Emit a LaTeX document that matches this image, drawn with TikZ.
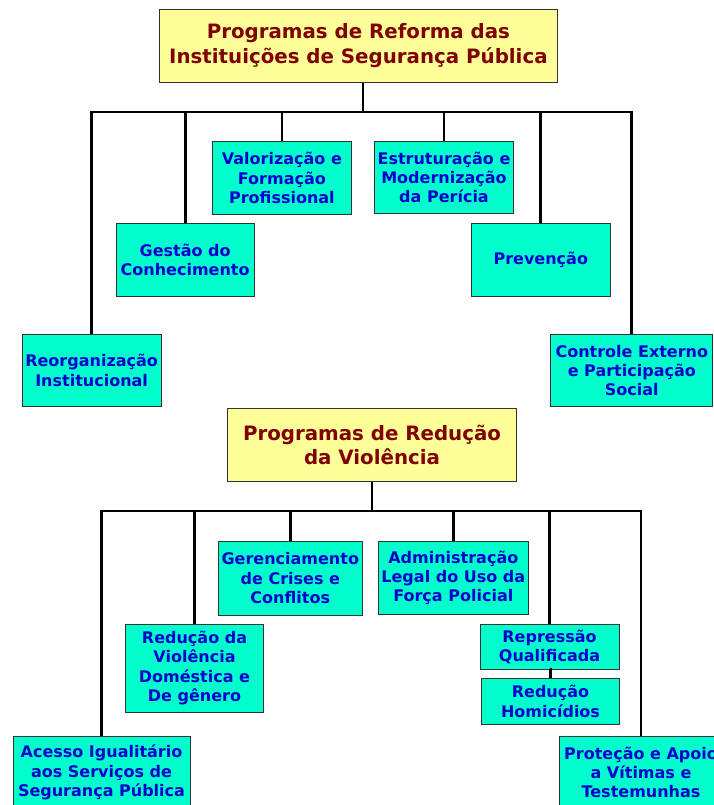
\documentclass[tikz,border=0pt]{standalone}
\usepackage{fontspec}
\setmainfont{DejaVu Sans}
\definecolor{tealfill}{RGB}{0,255,204}
\definecolor{titlefill}{RGB}{255,255,153}
\definecolor{boxtext}{RGB}{0,0,204}
\definecolor{titletext}{RGB}{128,0,0}
\definecolor{edge}{RGB}{50,50,50}
\begin{document}
\begin{tikzpicture}[x=1pt,y=-1pt,
  prog/.style={draw=edge, line width=0.9pt, fill=tealfill, text=boxtext,
    font=\bfseries\fontsize{16}{19.3}\selectfont, align=center, inner sep=0pt},
  titlebox/.style={draw=edge, line width=0.9pt, fill=titlefill, text=titletext,
    font=\bfseries\fontsize{19.8}{24.5}\selectfont, align=center, inner sep=0pt},
  conn/.style={line width=2.8pt, black, line join=miter}]
\useasboundingbox[fill=white] (0,0) rectangle (714,805);

% ---------- first tree ----------
\node[titlebox, minimum width=398pt, minimum height=73pt] (t1) at (358.4,45.8)
  {Programas de Reforma das\\Instituições de Segurança Pública};
\coordinate (b1) at (363,112);

\node[prog, minimum width=138.4pt, minimum height=72.6pt] (valor) at (281.9,178)
  {Valorização e\\Formação\\Profissional};
\node[prog, minimum width=139.4pt, minimum height=72.4pt] (estr) at (444,177.5)
  {Estruturação e\\Modernização\\da Perícia};
\node[prog, minimum width=138pt, minimum height=72.7pt] (gest) at (185.1,259.7)
  {Gestão do\\Conhecimento};
\node[prog, minimum width=139pt, minimum height=72.7pt] (prev) at (540.8,259.7)
  {Prevenção};
\node[prog, minimum width=138.8pt, minimum height=72.4pt] (reorg) at (91.6,370.5)
  {Reorganização\\Institucional};
\node[prog, minimum width=162.2pt, minimum height=72.4pt] (ctrl) at (631.8,370.5)
  {Controle Externo\\e Participação\\Social};

\draw[conn] (b1 |- t1.south) -- (b1);
\draw[conn] (reorg.north) -- (reorg.north |- b1) -- (ctrl.north |- b1) -- (ctrl.north);
\draw[conn] (gest.north) -- (gest.north |- b1);
\draw[conn] (valor.north) -- (valor.north |- b1);
\draw[conn] (estr.north) -- (estr.north |- b1);
\draw[conn] (prev.north) -- (prev.north |- b1);

% ---------- second tree ----------
\node[titlebox, minimum width=288.7pt, minimum height=72.7pt] (t2) at (372,444.7)
  {Programas de Redução\\da Violência};
\coordinate (b2) at (372,511);

\node[prog, minimum width=144.4pt, minimum height=73.3pt] (ger) at (290.3,578.3)
  {Gerenciamento\\de Crises e\\Conflitos};
\node[prog, minimum width=150.7pt, minimum height=73pt] (adm) at (453.3,577.8)
  {Administração\\Legal do Uso da\\Força Policial};
\node[prog, minimum width=138.5pt, minimum height=88pt] (rvd) at (194.5,668)
  {Redução da\\Violência\\Doméstica e\\De gênero};
\node[prog, minimum width=138.9pt, minimum height=45.3pt] (rep) at (549.5,646.7)
  {Repressão\\Qualificada};
\node[prog, minimum width=138.5pt, minimum height=45.3pt] (hom) at (550.5,701.3)
  {Redução\\Homicídios};
\node[prog, minimum width=177pt, minimum height=73pt] (aces) at (101.5,772.5)
  {Acesso Igualitário\\aos Serviços de\\Segurança Pública};
\node[prog, minimum width=163.4pt, minimum height=73pt] (prot) at (641,772.5)
  {Proteção e Apoio\\a Vítimas e\\Testemunhas};

\draw[conn] (b2 |- t2.south) -- (b2);
\draw[conn] (aces.north) -- (aces.north |- b2) -- (prot.north |- b2) -- (prot.north);
\draw[conn] (rvd.north) -- (rvd.north |- b2);
\draw[conn] (ger.north) -- (ger.north |- b2);
\draw[conn] (adm.north) -- (adm.north |- b2);
\draw[conn] (rep.north) -- (rep.north |- b2);
\draw[conn] (rep.south) -- (rep.south -| hom.north) -- (hom.north);
\end{tikzpicture}
\end{document}
